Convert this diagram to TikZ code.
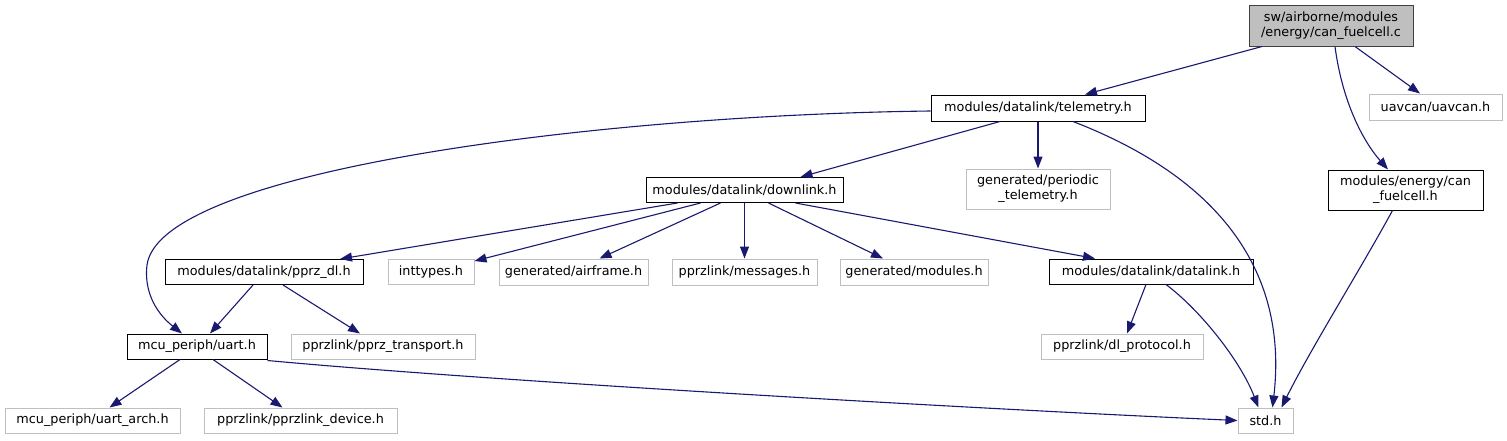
\documentclass[tikz,border=0pt]{standalone}
\usepackage{fontspec}
\setmainfont{DejaVu Sans}
\usetikzlibrary{arrows.meta}
\definecolor{edgecol}{HTML}{191970}
\definecolor{lightborder}{HTML}{BFBFBF}
\definecolor{rootfill}{HTML}{BFBFBF}
\begin{document}
\begin{tikzpicture}[x=1pt,y=-1pt,
  box/.style={draw=black,line width=1pt,inner sep=0pt,align=center,
    font=\fontsize{12.8}{15}\selectfont,text=black},
  gbox/.style={box,draw=lightborder},
  rootbox/.style={box,draw=black!75,fill=rootfill},
  edge/.style={draw=edgecol,line width=1.1pt,-{Triangle[length=12pt,width=9pt]},fill=none}
]
\useasboundingbox (0,0) rectangle (1507,440);

\node[rootbox,minimum width=164pt,minimum height=41pt] (fc) at (1331,25.5) {sw/airborne/modules\\/energy/can\_fuelcell.c};
\node[box,minimum width=214pt,minimum height=26pt] (tel) at (1038,108) {modules/datalink/telemetry.h};
\node[gbox,minimum width=133pt,minimum height=26pt] (uav) at (1435.5,107) {uavcan/uavcan.h};
\node[gbox,minimum width=144pt,minimum height=40pt] (per) at (1038,189) {generated/periodic\\\_telemetry.h};
\node[box,minimum width=155pt,minimum height=40pt] (cfh) at (1405.5,190) {modules/energy/can\\\_fuelcell.h};
\node[box,minimum width=197pt,minimum height=25pt] (dl) at (744.5,190) {modules/datalink/downlink.h};
\node[box,minimum width=198pt,minimum height=25pt] (pdl) at (264,272) {modules/datalink/pprz\_dl.h};
\node[gbox,minimum width=86pt,minimum height=25pt] (int) at (431,272) {inttypes.h};
\node[gbox,minimum width=149pt,minimum height=26pt] (air) at (573.5,272) {generated/airframe.h};
\node[gbox,minimum width=145pt,minimum height=26pt] (msg) at (744.5,272) {pprzlink/messages.h};
\node[gbox,minimum width=148pt,minimum height=26pt] (mod) at (914,272) {generated/modules.h};
\node[box,minimum width=204pt,minimum height=25pt] (dlk) at (1151,271.5) {modules/datalink/datalink.h};
\node[box,minimum width=140pt,minimum height=25pt] (uart) at (197,346.5) {mcu\_periph/uart.h};
\node[gbox,minimum width=184pt,minimum height=25pt] (tr) at (383,346.5) {pprzlink/pprz\_transport.h};
\node[gbox,minimum width=162pt,minimum height=25pt] (dlp) at (1122,346.5) {pprzlink/dl\_protocol.h};
\node[gbox,minimum width=175pt,minimum height=25pt] (ua) at (92.5,420.5) {mcu\_periph/uart\_arch.h};
\node[gbox,minimum width=193pt,minimum height=25pt] (dev) at (300.5,420.5) {pprzlink/pprzlink\_device.h};
\node[gbox,minimum width=55pt,minimum height=25pt] (std) at (1265.5,420.5) {std.h};

% edges
\draw[edge] ([xshift=-69pt]fc.south) -- ([xshift=47pt]tel.north);
\draw[edge] ([xshift=24pt]fc.south) -- ([xshift=-15.5pt]uav.north);
\draw[edge] ([xshift=4pt]fc.south) .. controls (1342,100) and (1362,140) .. ([xshift=-17.5pt]cfh.north);
\draw[edge] (tel.west) ++(0,3) .. controls (600,115) and (160,170) .. (147,265) .. controls (143,300) and (165,320) .. ([xshift=-15pt]uart.north);
\draw[edge] ([xshift=-38pt]tel.south) -- ([xshift=56pt]dl.north);
\draw[edge] (tel.south) -- (per.north);
\draw[edge] ([xshift=35pt]tel.south) .. controls (1250,190) and (1285,300) .. ([xshift=7pt]std.north);
\draw[edge] ([xshift=-13pt]cfh.south) .. controls (1360,270) and (1310,350) .. ([xshift=16pt]std.north);
\draw[edge] ([xshift=-67pt]dl.south) -- ([xshift=76pt]pdl.north);
\draw[edge] ([xshift=-44pt]dl.south) -- ([yshift=-2pt]int.north east);
\draw[edge] ([xshift=-24pt]dl.south) -- ([xshift=26pt]air.north);
\draw[edge] (dl.south) -- (msg.north);
\draw[edge] ([xshift=24pt]dl.south) -- ([xshift=-31pt]mod.north);
\draw[edge] ([xshift=51pt]dl.south) -- ([xshift=-56pt]dlk.north);
\draw[edge] ([xshift=-11pt]pdl.south) -- ([xshift=13pt]uart.north);
\draw[edge] ([xshift=19pt]pdl.south) -- ([xshift=-23pt]tr.north);
\draw[edge] ([xshift=-5pt]dlk.south) -- ([xshift=5pt]dlp.north);
\draw[edge] ([xshift=15pt]dlk.south) .. controls (1200,310) and (1240,360) .. ([xshift=-7pt]std.north);
\draw[edge] ([xshift=-17pt]uart.south) -- ([xshift=17pt]ua.north);
\draw[edge] ([xshift=16pt]uart.south) -- ([xshift=-18pt]dev.north);
\draw[edge] ([yshift=-1pt]uart.south east) .. controls (500,382) and (1000,410) .. (std.west);
\end{tikzpicture}
\end{document}
